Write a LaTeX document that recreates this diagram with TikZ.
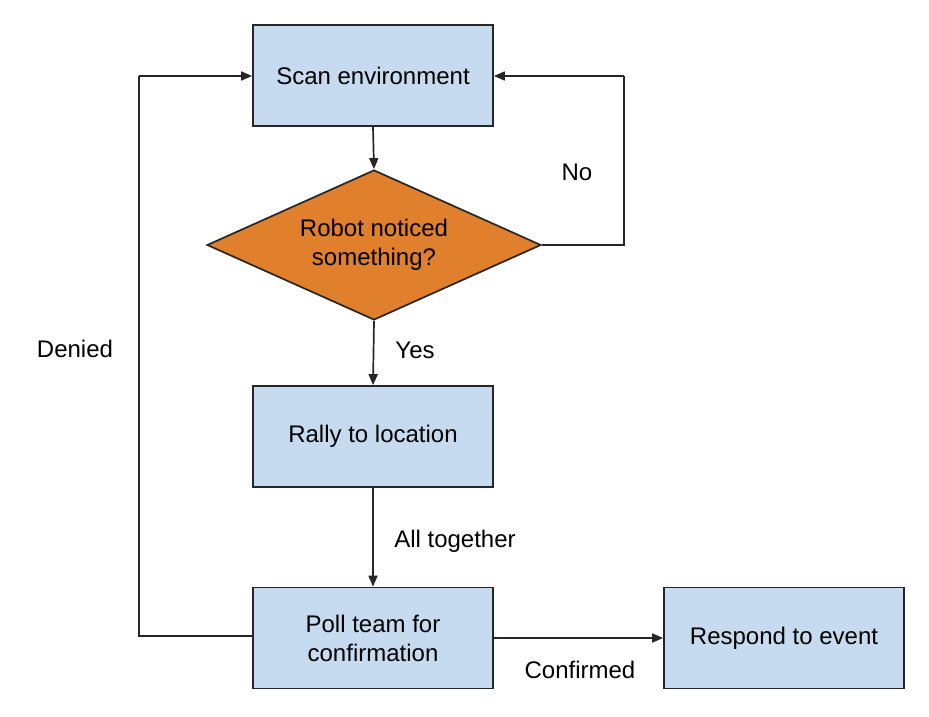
\documentclass[tikz,border=0pt]{standalone}
\usepackage{fontspec}
\setmainfont{Liberation Sans}
\usetikzlibrary{shapes.geometric,arrows.meta}
\definecolor{boxblue}{HTML}{C6DBEF}
\definecolor{decorange}{HTML}{E07F2C}
\tikzset{
  procbox/.style={draw=black!85, line width=1.7pt, fill=boxblue, minimum width=240pt, minimum height=101pt, inner sep=0pt, align=center, font=\fontsize{24}{29}\selectfont},
  decbox/.style={draw=black!85, line width=1.7pt, fill=decorange, diamond, aspect=2.227, minimum width=334pt, minimum height=150pt, inner sep=0pt, align=center, font=\fontsize{24}{29}\selectfont},
  conn/.style={line width=1.7pt, draw=black!85},
  arr/.style={conn, -{Triangle[length=11pt,width=9pt]}},
  lbl/.style={font=\fontsize{24}{29}\selectfont, inner sep=0pt}
}
\begin{document}
\begin{tikzpicture}[x=1pt,y=-1pt]
\useasboundingbox (0,0) rectangle (929,717);
\node[procbox] (scan) at (373,75.5) {\raisebox{-2pt}{Scan environment}};
\node[decbox] (dec) at (374,245) {\raisebox{-2pt}{Robot noticed}\\\raisebox{-2pt}{something?}};
\node[procbox] (rally) at (373,436.5) {\raisebox{-2pt}{Rally to location}};
\node[procbox] (poll) at (373,638) {\raisebox{-2pt}{Poll team for}\\\raisebox{-2pt}{confirmation}};
\node[procbox] (resp) at (784,638) {\raisebox{-2pt}{Respond to event}};
\coordinate (nr) at (624,245);
\coordinate (nt) at (624,76);
\coordinate (dl) at (139,636);
\coordinate (dt) at (139,76);
\draw[arr] (scan.south) -- (dec.north);
\draw[arr] (dec.south) -- (rally.north);
\draw[arr] (rally.south) -- (poll.north);
\draw[arr] (poll.east) -- (resp.west);
\draw[conn] (dec.east) -- (nr) -- (nt);
\draw[arr] (nt) -- (scan.east |- nt);
\draw[conn] (poll.west |- dl) -- (dl) -- (dt);
\draw[arr] (dt) -- (scan.west |- dt);
\node[lbl] (no) at (577,172) {No};
\node[lbl] (yes) at (415,350) {Yes};
\node[lbl] (all) at (455,541) {All together};
\node[lbl] (den) at (75,349) {Denied};
\node[lbl] (conf) at (580,670) {Confirmed};
\end{tikzpicture}
\end{document}
